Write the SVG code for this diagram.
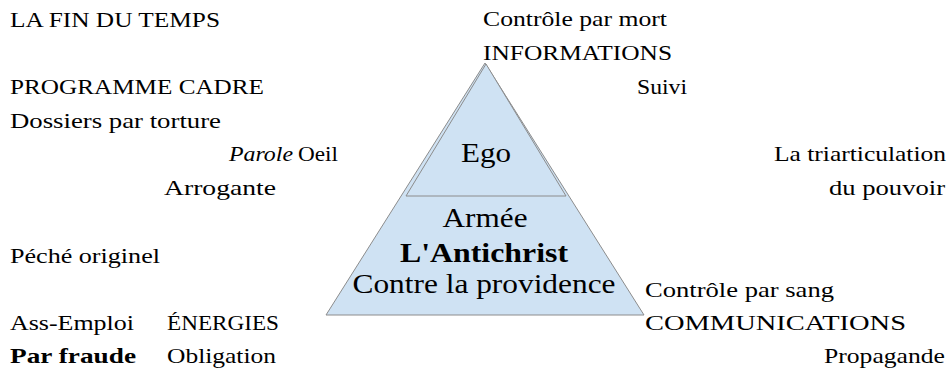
<svg xmlns="http://www.w3.org/2000/svg" width="948" height="372" viewBox="0 0 948 372">
<style>
.f{font-family:"Liberation Serif","Times New Roman","DejaVu Serif",serif;fill:#000;}
.t{font-size:22px;}
.c{font-size:28px;text-anchor:middle;}
.b{font-weight:bold;}
.i{font-style:italic;}
.tri{fill:#cfe2f3;stroke:#8c8c8c;stroke-width:1;}
</style>
<rect width="948" height="372" fill="#fff"/>
<g id="pyramid">
<polygon class="tri" points="485,63 326,315 644,315"/>
<polygon class="tri" points="486,64 406,196 566,196"/>
</g>
<g class="f">
<g id="ego"><text class="c" x="486" y="162" textLength="50" lengthAdjust="spacingAndGlyphs">Ego</text></g>
<g id="base">
<text class="c" x="485" y="227" textLength="85" lengthAdjust="spacingAndGlyphs">Armée</text>
<text class="c b" x="484" y="262" textLength="168" lengthAdjust="spacingAndGlyphs">L'Antichrist</text>
<text class="c" x="484" y="293" textLength="263" lengthAdjust="spacingAndGlyphs">Contre la providence</text>
</g>
<g id="fin"><text class="t" x="10" y="27" textLength="210" lengthAdjust="spacingAndGlyphs">LA FIN DU TEMPS</text></g>
<g id="mort">
<text class="t" x="483" y="26" textLength="184" lengthAdjust="spacingAndGlyphs">Contrôle par mort</text>
<text class="t" x="483" y="60" textLength="189" lengthAdjust="spacingAndGlyphs">INFORMATIONS</text>
</g>
<g id="programme"><text class="t" x="10" y="94" textLength="254" lengthAdjust="spacingAndGlyphs">PROGRAMME CADRE</text></g>
<g id="suivi"><text class="t" x="637" y="94" textLength="50" lengthAdjust="spacingAndGlyphs">Suivi</text></g>
<g id="parole"><text class="t" x="229" y="161"><tspan class="i" textLength="64" lengthAdjust="spacingAndGlyphs">Parole</tspan><tspan x="298" textLength="40" lengthAdjust="spacingAndGlyphs">Oeil</tspan></text></g>
<g id="dossiers"><text class="t" x="10" y="128" textLength="211" lengthAdjust="spacingAndGlyphs">Dossiers par torture</text></g>
<g id="triarticulation">
<text class="t" x="774" y="161" textLength="172" lengthAdjust="spacingAndGlyphs">La triarticulation</text>
<text class="t" x="829" y="195" textLength="116" lengthAdjust="spacingAndGlyphs">du pouvoir</text>
</g>
<g id="arrogante"><text class="t" x="164" y="195" textLength="112" lengthAdjust="spacingAndGlyphs">Arrogante</text></g>
<g id="peche"><text class="t" x="10" y="263" textLength="150" lengthAdjust="spacingAndGlyphs">Péché originel</text></g>
<g id="sang">
<text class="t" x="645" y="297" textLength="189" lengthAdjust="spacingAndGlyphs">Contrôle par sang</text>
<text class="t" x="645" y="330" textLength="261" lengthAdjust="spacingAndGlyphs">COMMUNICATIONS</text>
<text class="t" x="824" y="363" textLength="121" lengthAdjust="spacingAndGlyphs">Propagande</text>
</g>
<g id="emploi">
<text class="t" x="10" y="330" textLength="124" lengthAdjust="spacingAndGlyphs">Ass-Emploi</text>
<text class="t b" x="10" y="363" textLength="126" lengthAdjust="spacingAndGlyphs">Par fraude</text>
</g>
<g id="energies">
<text class="t" x="167" y="330" textLength="112" lengthAdjust="spacingAndGlyphs">ÉNERGIES</text>
<text class="t" x="167" y="363" textLength="109" lengthAdjust="spacingAndGlyphs">Obligation</text>
</g>
</g>
</svg>
